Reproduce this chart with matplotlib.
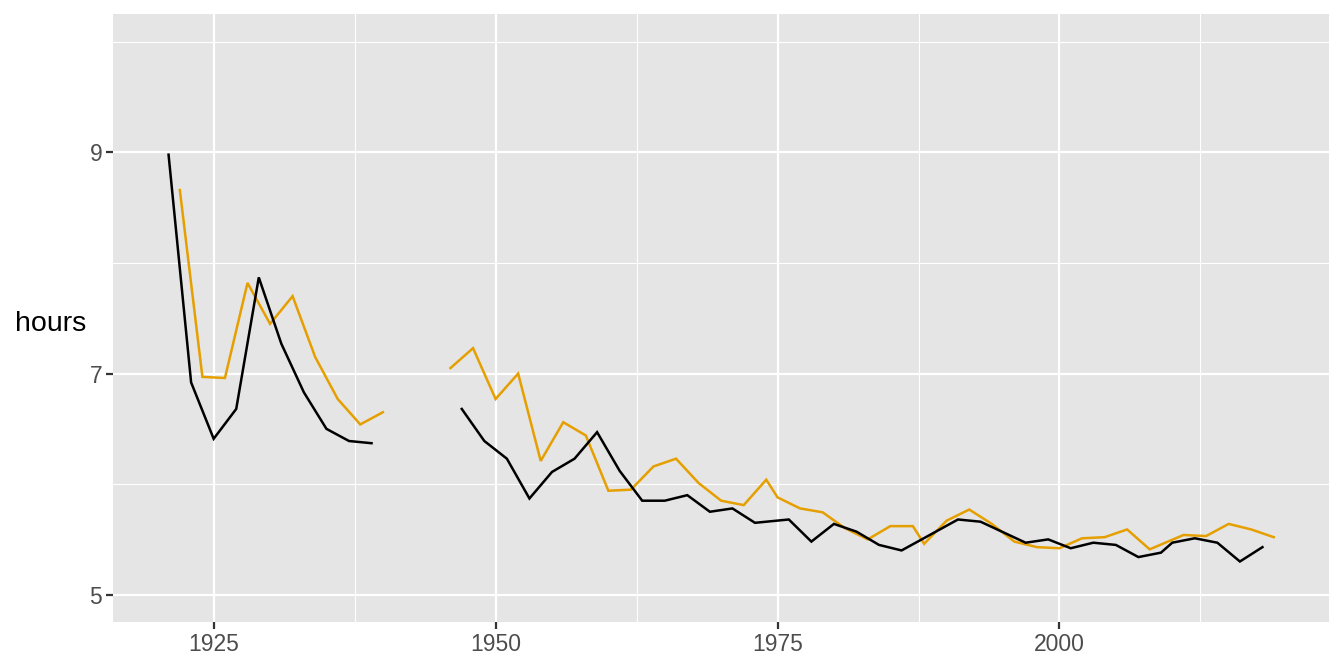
import numpy as np
import matplotlib
matplotlib.use("Agg")
import matplotlib.pyplot as plt
from matplotlib.ticker import FixedLocator

plt.rcParams["font.family"] = ["Liberation Sans", "DejaVu Sans"]

# black series (odd years before the war, then a mix); nan marks the gap
black_years = [1921, 1923, 1925, 1927, 1929, 1931, 1933, 1935, 1937, 1939,
               1943,
               1947, 1949, 1951, 1953, 1955, 1957, 1959, 1961, 1963, 1965,
               1967, 1969, 1971, 1973, 1976, 1978, 1980, 1982, 1984, 1986,
               1991, 1993, 1995, 1997, 1999, 2001, 2003, 2005, 2007, 2009,
               2010, 2012, 2014, 2016, 2018]
black_hours = [8.98, 6.92, 6.41, 6.68, 7.87, 7.27, 6.83, 6.50, 6.39, 6.37,
               np.nan,
               6.68, 6.39, 6.23, 5.87, 6.11, 6.23, 6.47, 6.12, 5.85, 5.85,
               5.90, 5.75, 5.78, 5.65, 5.68, 5.48, 5.64, 5.57, 5.45, 5.40,
               5.68, 5.66, 5.565, 5.47, 5.50, 5.42, 5.47, 5.45, 5.34, 5.38,
               5.47, 5.51, 5.47, 5.30, 5.43]

# orange series
orange_years = [1922, 1924, 1926, 1928, 1930, 1932, 1934, 1936, 1938, 1940,
                1943,
                1946, 1948, 1950, 1952, 1954, 1956, 1958, 1960, 1962, 1964,
                1966, 1968, 1970, 1972, 1974, 1975, 1977, 1979, 1981, 1983,
                1985, 1987, 1988, 1990, 1992, 1994, 1996, 1998, 2000, 2002,
                2004, 2006, 2008, 2011, 2013, 2015, 2017, 2019]
orange_hours = [8.66, 6.97, 6.96, 7.82, 7.45, 7.70, 7.15, 6.77, 6.54, 6.65,
                np.nan,
                7.05, 7.23, 6.77, 7.00, 6.21, 6.56, 6.44, 5.94, 5.95, 6.16,
                6.23, 6.01, 5.85, 5.81, 6.04, 5.88, 5.78, 5.745, 5.60, 5.50,
                5.62, 5.62, 5.46, 5.67, 5.77, 5.64, 5.48, 5.43, 5.42, 5.51,
                5.52, 5.59, 5.41, 5.54, 5.53, 5.64, 5.59, 5.52]

x_ticks = [1925, 1950, 1975, 2000]
x_minor = [1937.5, 1962.5, 1987.5, 2012.5]
y_ticks = [5, 7, 9]
y_minor = [6, 8, 10]

fig = plt.figure(figsize=(13.44, 6.72), dpi=100)
ax = fig.add_axes([113.3 / 1344, 1 - 622.3 / 672,
                   (1329 - 113.3) / 1344, (622.3 - 14.3) / 672])
ax.set_facecolor("#E5E5E5")

ax.plot(orange_years, orange_hours, color="#E69F00", lw=1.8,
        solid_joinstyle="miter", zorder=3)
ax.plot(black_years, black_hours, color="black", lw=1.8,
        solid_joinstyle="miter", zorder=3)

# ggplot-style expanded limits (data 1921-2019, 5-10)
ax.set_xlim(1921 - 0.05 * 98, 2019 + 0.05 * 98)
ax.set_ylim(5 - 0.05 * 5, 10 + 0.05 * 5)

ax.set_xticks(x_ticks)
ax.set_yticks(y_ticks)
ax.xaxis.set_minor_locator(FixedLocator(x_minor))
ax.yaxis.set_minor_locator(FixedLocator(y_minor))
ax.grid(which="major", color="white", lw=1.6)
ax.grid(which="minor", color="white", lw=0.8)
ax.set_axisbelow(True)

for s in ax.spines.values():
    s.set_visible(False)
ax.tick_params(which="major", length=5, width=1.6, color="#333333",
               labelsize=16.5, labelcolor="#4D4D4D", pad=3)
ax.tick_params(which="minor", length=0)

ax.set_ylabel("hours", rotation=0, ha="right", va="center", fontsize=20.5)
ax.yaxis.set_label_coords(-0.022, 0.49)

fig.savefig("out.png", dpi=100)
